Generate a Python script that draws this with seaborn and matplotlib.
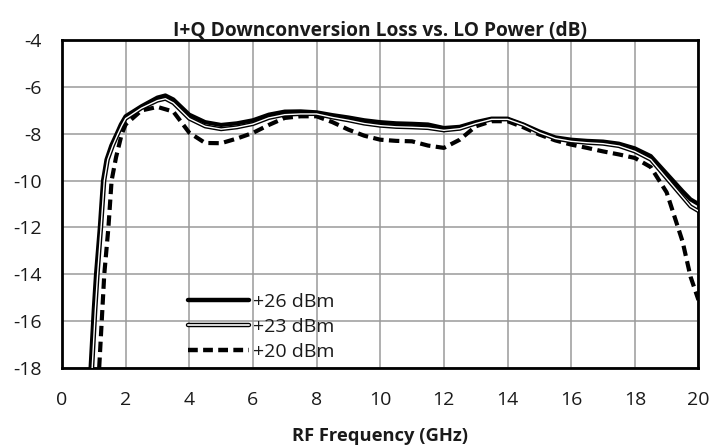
import matplotlib
matplotlib.use("Agg")
import matplotlib.pyplot as plt
import seaborn as sns
import pandas as pd
from matplotlib.lines import Line2D

# ---- data ----
freq_26 = [0.9, 1.0, 1.07, 1.19, 1.29, 1.4, 1.55, 1.72, 1.85, 2.0, 2.5, 3.0, 3.25, 3.5, 4.0, 4.5, 5.0,
           5.5, 6.0, 6.5, 7.0, 7.5, 8.0, 8.5, 9.0, 9.5, 10.0, 10.5, 11.0, 11.5, 12.0, 12.5, 13.0, 13.5,
           14.0, 14.5, 15.0, 15.5, 16.0, 16.5, 17.0, 17.5, 18.0, 18.5, 19.0, 19.5, 19.75, 20.0]
loss_26 = [-18.0, -15.5, -14.0, -12.0, -10.0, -9.1, -8.5, -8.0, -7.6, -7.25, -6.82, -6.45, -6.36, -6.53,
           -7.18, -7.5, -7.62, -7.55, -7.42, -7.18, -7.05, -7.04, -7.08, -7.2, -7.3, -7.42, -7.5, -7.55,
           -7.57, -7.6, -7.75, -7.7, -7.5, -7.35, -7.35, -7.6, -7.9, -8.15, -8.25, -8.3, -8.33, -8.42,
           -8.62, -8.95, -9.7, -10.45, -10.8, -11.0]

freq_23 = [0.95, 1.05, 1.12, 1.23, 1.33, 1.44, 1.6, 1.76, 1.88, 2.0, 2.5, 3.0, 3.25, 3.5, 4.0, 4.5, 5.0,
           5.5, 6.0, 6.5, 7.0, 7.5, 8.0, 8.5, 9.0, 9.5, 10.0, 10.5, 11.0, 11.5, 12.0, 12.5, 13.0, 13.5,
           14.0, 14.5, 15.0, 15.5, 16.0, 16.5, 17.0, 17.5, 18.0, 18.5, 19.0, 19.5, 19.75, 20.0]
loss_23 = [-18.0, -15.5, -14.0, -12.0, -10.0, -9.1, -8.5, -8.0, -7.65, -7.35, -6.9, -6.58, -6.5, -6.68,
           -7.35, -7.68, -7.8, -7.72, -7.58, -7.32, -7.18, -7.15, -7.15, -7.3, -7.42, -7.56, -7.65, -7.7,
           -7.72, -7.75, -7.85, -7.78, -7.56, -7.38, -7.38, -7.62, -7.95, -8.2, -8.32, -8.38, -8.42,
           -8.52, -8.75, -9.1, -9.9, -10.7, -11.1, -11.3]

freq_20 = [1.17, 1.25, 1.33, 1.46, 1.56, 1.7, 1.88, 2.0, 2.5, 3.0, 3.5, 4.0, 4.5, 5.0, 5.5, 6.0, 6.5,
           7.0, 7.5, 8.0, 8.5, 9.0, 9.5, 10.0, 10.5, 11.0, 11.5, 12.0, 12.5, 13.0, 13.5, 14.0, 14.5,
           15.0, 15.5, 16.0, 16.5, 17.0, 17.5, 18.0, 18.5, 19.0, 19.5, 19.75, 20.0]
loss_20 = [-18.0, -16.0, -14.0, -12.0, -10.0, -9.0, -8.0, -7.6, -7.0, -6.85, -7.05, -7.95, -8.39, -8.4,
           -8.2, -7.96, -7.62, -7.32, -7.25, -7.25, -7.5, -7.82, -8.08, -8.25, -8.3, -8.32, -8.5, -8.6,
           -8.25, -7.68, -7.46, -7.46, -7.72, -8.03, -8.28, -8.46, -8.6, -8.75, -8.88, -9.03, -9.42,
           -10.5, -12.6, -14.1, -15.1]

series_labels = ["+26 dBm", "+23 dBm", "+20 dBm"]
x_ticks = list(range(0, 21, 2))
y_ticks = list(range(-18, -3, 2))

# ---- figure ----
sns.set_theme(style="white")
plt.rcParams["font.family"] = ["Open Sans", "DejaVu Sans"]

fig = plt.figure(figsize=(7.12, 4.47), dpi=100)
ax = fig.add_axes([0.087, 0.177, 0.894, 0.733])

df26 = pd.DataFrame({"f": freq_26, "v": loss_26})
df23 = pd.DataFrame({"f": freq_23, "v": loss_23})
df20 = pd.DataFrame({"f": freq_20, "v": loss_20})

sns.lineplot(data=df26, x="f", y="v", ax=ax, color="black", lw=3.0, sort=False, zorder=4)
sns.lineplot(data=df23, x="f", y="v", ax=ax, color="black", lw=3.0, sort=False, zorder=5)
sns.lineplot(data=df23, x="f", y="v", ax=ax, color="white", lw=1.0, sort=False, zorder=6)
sns.lineplot(data=df20, x="f", y="v", ax=ax, color="black", lw=3.0, sort=False,
             zorder=3, linestyle=(0, (2.5, 1.3)))

ax.set_xlim(0, 20)
ax.set_ylim(-18, -4)
ax.set_xticks(x_ticks)
ax.set_yticks(y_ticks)
ax.set_xticklabels([str(t) for t in x_ticks])
ax.set_yticklabels([str(t) for t in y_ticks])
ax.grid(True, color="#9a9a9a", lw=1.1)
ax.set_axisbelow(True)
for s in ax.spines.values():
    s.set_color("black")
    s.set_linewidth(2.0)
    s.set_visible(True)
ax.tick_params(axis="both", length=0, labelsize=14, labelcolor="#1a1a1a")
ax.tick_params(axis="y", pad=14.5)
ax.tick_params(axis="x", pad=16.5)

ax.set_xlabel("RF Frequency (GHz)", fontsize=13.2, fontweight="bold", color="#1a1a1a", labelpad=13)
ax.set_ylabel("")
ax.set_title("I+Q Downconversion Loss vs. LO Power (dB)", fontsize=13.8, fontweight="bold",
             color="#1a1a1a", pad=3)

h26 = Line2D([], [], color="black", lw=3.2)
h23 = (Line2D([], [], color="black", lw=3.2), Line2D([], [], color="#dddddd", lw=1.4))
h20 = Line2D([], [], color="black", lw=3.2, linestyle=(0, (2.2, 1.2)))
leg = ax.legend([h26, h23, h20], series_labels, loc="lower left",
                bbox_to_anchor=(0.18, -0.015), frameon=False, fontsize=14,
                handlelength=3.15, handletextpad=0.2, labelspacing=0.36, borderaxespad=0.2)
for t in leg.get_texts():
    t.set_color("#1a1a1a")

fig.savefig("out.png", dpi=100)
